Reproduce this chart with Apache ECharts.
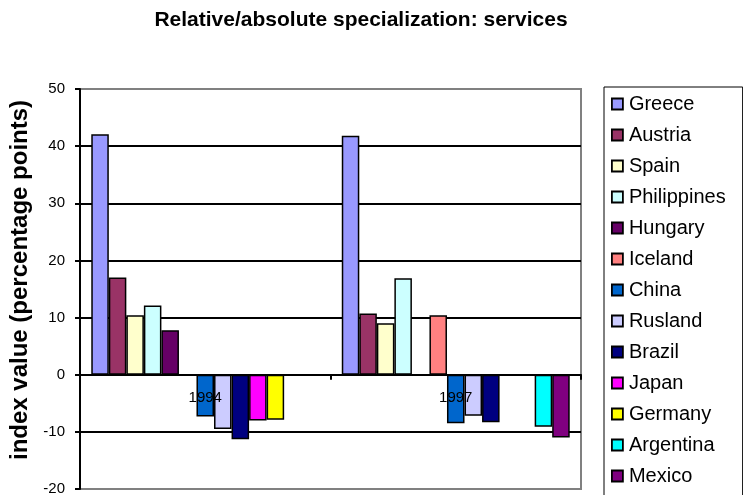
<!DOCTYPE html>
<html>
<head>
<meta charset="utf-8">
<script src="https://cdn.jsdelivr.net/npm/echarts@6/dist/echarts.min.js"></script>
<style>
  html, body { margin: 0; padding: 0; background: #fff; }
  #chart { width: 743px; height: 495px; }
</style>
</head>
<body>
<div id="chart"></div>
<script>
// Years on the category axis
const years = ['1994', '1997'];

// Country names, in legend order
const countries = ['Greece', 'Austria', 'Spain', 'Philippines', 'Hungary', 'Iceland',
  'China', 'Rusland', 'Brazil', 'Japan', 'Germany', 'Argentina', 'Mexico'];

// Index values per country: [1994, 1997]; null = no bar
const greece      = [42.1, 41.8];
const austria     = [17.0, 10.7];
const spain       = [10.4, 9.0];
const philippines = [12.1, 16.9];
const hungary     = [7.8, null];
const iceland     = [null, 10.4];
const china       = [-7.3, -8.5];
const rusland     = [-9.5, -7.2];
const brazil      = [-11.3, -8.3];
const japan       = [-8.0, null];
const germany     = [-7.9, null];
const argentina   = [null, -9.1];
const mexico      = [null, -11.0];

// Value axis ticks
const yTicks = [-20, -10, 0, 10, 20, 30, 40, 50];

const values = [greece, austria, spain, philippines, hungary, iceland,
  china, rusland, brazil, japan, germany, argentina, mexico];

const colors = ['#9999FF', '#993366', '#FFFFCC', '#CCFFFF', '#660066', '#FF8080',
  '#0066CC', '#CCCCFF', '#000080', '#FF00FF', '#FFFF00', '#00FFFF', '#800080'];

const FONT = "'Liberation Sans', Arial, sans-serif";

// Plot rectangle
const GRID = { left: 80, top: 89, right: 162, bottom: 6 };
const plotHeight = 495 - GRID.top - GRID.bottom;
const yMin = yTicks[0];
const yMax = yTicks[yTicks.length - 1];
// The category axis sits on the zero line
const zeroOffset = -plotHeight * (0 - yMin) / (yMax - yMin);

const chart = echarts.init(document.getElementById('chart'), null, { renderer: 'canvas' });

chart.setOption({
  animation: false,
  backgroundColor: '#fff',
  textStyle: { fontFamily: FONT },
  title: {
    text: 'Relative/absolute specialization: services',
    left: 356, top: 5, textAlign: 'center',
    textStyle: { fontFamily: FONT, fontSize: 21, fontWeight: 'bold', color: '#000' }
  },
  legend: {
    orient: 'vertical',
    left: 604, top: 87,
    height: 460,
    padding: [7, 17, 24, 7],
    itemGap: 11,
    itemWidth: 11, itemHeight: 11,
    icon: 'rect',
    borderColor: '#000', borderWidth: 1,
    itemStyle: { borderColor: '#000', borderWidth: 1.8 },
    textStyle: { fontFamily: FONT, fontSize: 20, color: '#000', lineHeight: 20, padding: [0, 0, 0, 1] },
    data: countries
  },
  grid: {
    left: GRID.left, top: GRID.top, right: GRID.right, bottom: GRID.bottom,
    outerBoundsMode: 'none', containLabel: false,
    show: true, borderColor: '#808080', borderWidth: 2, backgroundColor: 'transparent'
  },
  xAxis: {
    type: 'category',
    data: years,
    z: 5,
    position: 'bottom',
    offset: zeroOffset,
    axisLine: { onZero: false, lineStyle: { color: '#000', width: 2 } },
    axisTick: { show: true, alignWithLabel: false, length: 5, lineStyle: { color: '#000', width: 2 } },
    axisLabel: { margin: 16, fontSize: 15, color: '#000', fontFamily: FONT },
    splitLine: { show: false }
  },
  yAxis: {
    type: 'value',
    min: yMin, max: yMax, interval: 10,
    name: 'index value (percentage points)',
    nameLocation: 'middle', nameGap: 47,
    nameTextStyle: { fontFamily: FONT, fontSize: 24, fontWeight: 'bold', color: '#000', padding: [0, 0, 0, 18] },
    axisLine: { show: true, lineStyle: { color: '#000', width: 2 } },
    axisTick: { show: true, length: 5, lineStyle: { color: '#000', width: 2 } },
    axisLabel: { margin: 15, fontSize: 15, color: '#000', fontFamily: FONT },
    splitLine: { show: true, showMinLine: false, showMaxLine: false, lineStyle: { color: '#000', width: 2 } }
  },
  series: countries.map((name, i) => ({
    name: name,
    type: 'bar',
    data: values[i],
    barGap: '0%',
    barCategoryGap: '9%',
    itemStyle: { color: colors[i], borderColor: '#000', borderWidth: 1.5 }
  }))
});
</script>
</body>
</html>
